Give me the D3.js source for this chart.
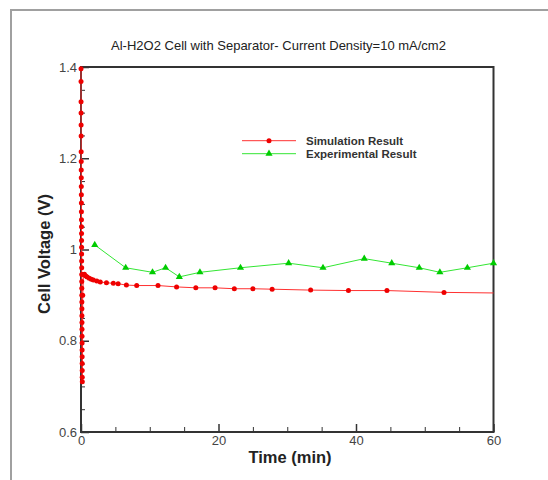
<!DOCTYPE html>
<html>
<head>
<meta charset="utf-8">
<script src="https://cdn.jsdelivr.net/npm/d3@7"></script>
<style>
  body { margin: 0; background: #fff; }
  svg { display: block; font-family: Arial, "Liberation Sans", sans-serif; }
  .tick text { fill: #444; font-size: 13px; }
</style>
</head>
<body>
<svg width="548" height="480"></svg>
<script>
// Al-H2O2 cell, voltage vs time

const title = 'Al-H2O2 Cell with Separator- Current Density=10 mA/cm2';
const xTicks = [0, 20, 40, 60];
const yTicks = [0.6, 0.8, 1.0, 1.2, 1.4];
const seriesNames = ['Simulation Result', 'Experimental Result'];

// simulation: sharp start transient, then slow decay
const simTime = [0, 0.004, 0.008, 0.012, 0.016, 0.02, 0.025, 0.03, 0.035, 0.04, 0.045, 0.05, 0.055, 0.06,
  0.065, 0.07, 0.075, 0.08, 0.085, 0.09, 0.095, 0.1, 0.105, 0.11, 0.115, 0.12, 0.125, 0.13, 0.135, 0.14,
  0.145, 0.15, 0.155, 0.16, 0.165, 0.17, 0.175, 0.18, 0.19,
  0.25, 0.35, 0.5, 0.7, 0.9, 1.2, 1.5, 1.8, 2.3, 2.8, 3.7, 4.7, 5.4, 6.6, 8.1, 11.2, 13.9, 16.7,
  19.5, 22.3, 25.0, 27.8, 33.4, 38.9, 44.5, 52.8, 61.5];
const simVolt = [1.396, 1.368, 1.324, 1.299, 1.273, 1.249, 1.214, 1.193, 1.174, 1.157, 1.138, 1.12, 1.102, 1.083,
  1.065, 1.05, 1.035, 1.02, 1.005, 0.99, 0.975, 0.96, 0.945, 0.93, 0.915, 0.9, 0.885, 0.87, 0.855, 0.84,
  0.825, 0.81, 0.795, 0.78, 0.765, 0.75, 0.735, 0.72, 0.71,
  0.9, 0.945, 0.946, 0.942, 0.94, 0.937, 0.935, 0.933, 0.931, 0.929, 0.927, 0.926, 0.925, 0.922, 0.921, 0.921, 0.918, 0.916,
  0.916, 0.914, 0.914, 0.913, 0.911, 0.91, 0.91, 0.906, 0.9045];

const expTime = [2, 6.5, 10.4, 12.3, 14.3, 17.3, 23.2, 30.2, 35.2, 41.2, 45.2, 49.2, 52.2, 56.2, 60];
const expVolt = [1.01, 0.96, 0.95, 0.96, 0.94, 0.95, 0.96, 0.97, 0.96, 0.98, 0.97, 0.96, 0.95, 0.96, 0.97];

const svg = d3.select('svg');
const margin = {left: 81, top: 67, right: 54.5, bottom: 48};
const width = 548 - margin.left - margin.right;
const height = 480 - margin.top - margin.bottom;

// outer grey frame (top and left edges only)
svg.append('path')
  .attr('d', 'M11,480 V10 H548')
  .attr('fill', 'none')
  .attr('stroke', '#a0a0a0')
  .attr('stroke-width', 2);

const x = d3.scaleLinear().domain([0, 60]).range([0, width]);
const y = d3.scaleLinear().domain([0.6, 1.4]).range([height, 0]);

const g = svg.append('g').attr('transform', `translate(${margin.left},${margin.top})`);

g.append('clipPath').attr('id', 'clip')
  .append('rect').attr('x', -4).attr('width', width + 4).attr('height', height);

// minor ticks
const yMinor = d3.range(0.65, 1.4, 0.05).filter(v => Math.abs(v * 5 - Math.round(v * 5)) > 1e-6);
const xMinor = d3.range(5, 60, 5).filter(v => v % 20 !== 0);

g.append('g').call(d3.axisLeft(y).tickValues(yMinor).tickSize(-4).tickFormat(''))
  .call(a => a.select('.domain').remove())
  .selectAll('line').attr('stroke', '#333');
g.append('g').attr('transform', `translate(0,${height})`)
  .call(d3.axisBottom(x).tickValues(xMinor).tickSize(-5).tickFormat(''))
  .call(a => a.select('.domain').remove())
  .selectAll('line').attr('stroke', '#333');

// major ticks + labels
const yAxis = g.append('g')
  .call(d3.axisLeft(y).tickValues(yTicks).tickSize(-8).tickPadding(4).tickFormat(d => String(+d.toFixed(1))));
yAxis.select('.domain').remove();
yAxis.selectAll('line').attr('stroke', '#333').attr('stroke-width', 1.5);

const xAxis = g.append('g').attr('transform', `translate(0,${height})`)
  .call(d3.axisBottom(x).tickValues(xTicks).tickSize(-8).tickPadding(4));
xAxis.select('.domain').remove();
xAxis.selectAll('line').attr('stroke', '#333').attr('stroke-width', 1.5);

// plot box
g.append('rect')
  .attr('width', width).attr('height', height)
  .attr('fill', 'none').attr('stroke', '#333').attr('stroke-width', 2);

const simData = simTime.map((t, i) => [t, simVolt[i]]);
const expData = expTime.map((t, i) => [t, expVolt[i]]);

const line = d3.line().x(d => x(d[0])).y(d => y(d[1]));
const plot = g.append('g').attr('clip-path', 'url(#clip)');

plot.append('path').datum(simData)
  .attr('d', line).attr('fill', 'none').attr('stroke', '#ff3030').attr('stroke-width', 1);
plot.append('path').datum(expData)
  .attr('d', line).attr('fill', 'none').attr('stroke', '#33e633').attr('stroke-width', 1);

// markers only inside the time range, drawn over the axis
g.selectAll('.sim').data(simData.filter(d => d[0] <= 60)).enter().append('circle')
  .attr('class', 'sim')
  .attr('cx', d => x(d[0])).attr('cy', d => y(d[1]))
  .attr('r', 2.5).attr('fill', '#ee0000');

const tri = d3.symbol().type(d3.symbolTriangle).size(22);
g.selectAll('.exp').data(expData).enter().append('path')
  .attr('class', 'exp')
  .attr('transform', d => `translate(${x(d[0])},${y(d[1])})`)
  .attr('d', tri).attr('fill', '#00cc00');

// legend
const legend = svg.append('g');
const legendY = [140.7, 153.7];
const legendColors = [['#ff3030', '#ee0000'], ['#33e633', '#00cc00']];
seriesNames.forEach((name, i) => {
  legend.append('line')
    .attr('x1', 242).attr('x2', 296).attr('y1', legendY[i]).attr('y2', legendY[i])
    .attr('stroke', legendColors[i][0]).attr('stroke-width', 1);
  if (i === 0) {
    legend.append('circle').attr('cx', 269).attr('cy', legendY[i]).attr('r', 2.5).attr('fill', legendColors[i][1]);
  } else {
    legend.append('path').attr('transform', `translate(269,${legendY[i]})`).attr('d', tri).attr('fill', legendColors[i][1]);
  }
  legend.append('text')
    .attr('x', 306).attr('y', legendY[i] + 3.8)
    .attr('font-size', 11.5).attr('font-weight', 'bold').attr('fill', '#333')
    .text(name);
});

// titles
svg.append('text')
  .attr('x', 278.5).attr('y', 50)
  .attr('text-anchor', 'middle').attr('font-size', 13).attr('fill', '#222')
  .text(title);

svg.append('text')
  .attr('x', 290).attr('y', 463)
  .attr('text-anchor', 'middle').attr('font-size', 16.5).attr('font-weight', 'bold').attr('fill', '#222')
  .text('Time (min)');

svg.append('text')
  .attr('transform', 'translate(50,254) rotate(-90)')
  .attr('text-anchor', 'middle').attr('font-size', 16.5).attr('font-weight', 'bold').attr('fill', '#222')
  .text('Cell Voltage (V)');
</script>
</body>
</html>
